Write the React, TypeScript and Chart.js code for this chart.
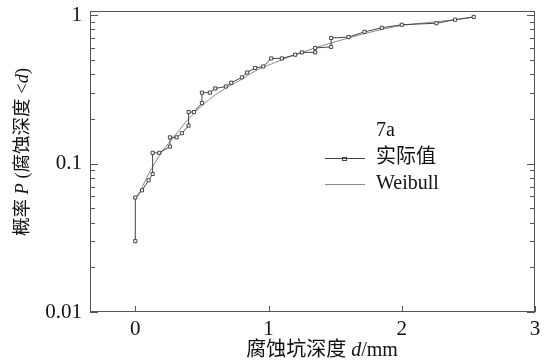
import React, { useEffect, useRef } from "react";
import { Chart, registerables } from "chart.js";

Chart.register(...registerables);

// Empirical (实际值) points: depth d (mm) and probability P
const empiricalD = [0, 0, 0.05, 0.1, 0.13, 0.13, 0.18, 0.26, 0.26, 0.31, 0.35, 0.4, 0.4, 0.44, 0.5, 0.5, 0.56, 0.6, 0.68, 0.72, 0.8, 0.84, 0.9, 0.96, 1.02, 1.1, 1.2, 1.25, 1.35, 1.35, 1.47, 1.47, 1.6, 1.72, 1.85, 2.0, 2.26, 2.4, 2.54];
const empiricalP = [0.03, 0.059, 0.066, 0.077, 0.085, 0.118, 0.118, 0.13, 0.15, 0.15, 0.16, 0.18, 0.222, 0.222, 0.255, 0.3, 0.3, 0.32, 0.33, 0.35, 0.38, 0.41, 0.44, 0.45, 0.51, 0.51, 0.54, 0.56, 0.56, 0.6, 0.61, 0.7, 0.71, 0.77, 0.82, 0.86, 0.88, 0.93, 0.97];

// Weibull fitted curve
const weibullD = [0.02, 0.1, 0.2, 0.3, 0.4, 0.5, 0.6, 0.7, 0.8, 0.9, 1.0, 1.2, 1.4, 1.6, 1.8, 2.0, 2.2, 2.4, 2.55];
const weibullP = [0.06, 0.085, 0.12, 0.155, 0.2, 0.245, 0.29, 0.33, 0.37, 0.42, 0.46, 0.54, 0.62, 0.7, 0.78, 0.85, 0.89, 0.93, 0.97];

const xTickValues = [0, 1, 2, 3];
const yTickValues = [0.01, 0.1, 1];

const legendTitle = "7a";
const seriesNames = ["实际值", "Weibull"];
const xTitleParts = [{ t: "腐蚀坑深度 ", i: false }, { t: "d", i: true }, { t: "/mm", i: false }];
const yTitleParts = [{ t: "概率 ", i: false }, { t: "P", i: true }, { t: " (腐蚀深度 <", i: false }, { t: "d", i: true }, { t: ")", i: false }];

const FAM = '"Liberation Serif", "Noto Sans CJK SC", serif';

function drawParts(ctx: CanvasRenderingContext2D, parts: { t: string; i: boolean }[], cx: number, cy: number, size: number) {
  const fonts = parts.map((p) => `${p.i ? "italic " : ""}${size}px ${FAM}`);
  let total = 0;
  const widths = parts.map((p, k) => {
    ctx.font = fonts[k];
    const w = ctx.measureText(p.t).width;
    total += w;
    return w;
  });
  let x = cx - total / 2;
  ctx.textAlign = "left";
  ctx.textBaseline = "middle";
  parts.forEach((p, k) => {
    ctx.font = fonts[k];
    ctx.fillText(p.t, x, cy);
    x += widths[k];
  });
}

const decorPlugin = {
  id: "decor",
  afterDraw(chart: any) {
    const ctx: CanvasRenderingContext2D = chart.ctx;
    const { left, right, top, bottom } = chart.chartArea;
    const xs = chart.scales.x;
    const ys = chart.scales.y;
    ctx.save();
    ctx.strokeStyle = "#555";
    ctx.lineWidth = 1;
    ctx.strokeRect(Math.round(left) + 0.5, Math.round(top) + 0.5, Math.round(right - left) - 1, Math.round(bottom - top) - 1);
    ctx.beginPath();
    for (let dec = 0.01; dec < 2; dec *= 10) {
      for (let m = 1; m <= 9; m++) {
        const v = m * dec;
        if (v > ys.max + 1e-9) continue;
        const y = Math.round(ys.getPixelForValue(v)) + 0.5;
        const len = m === 1 ? 8 : 5;
        ctx.moveTo(left, y);
        ctx.lineTo(left + len, y);
        ctx.moveTo(right, y);
        ctx.lineTo(right - len, y);
      }
    }
    xTickValues.forEach((v) => {
      const x = Math.round(xs.getPixelForValue(v)) + 0.5;
      ctx.moveTo(x, bottom);
      ctx.lineTo(x, bottom - 6);
    });
    ctx.stroke();

    ctx.fillStyle = "#111";
    drawParts(ctx, xTitleParts, 322, 351, 20);
    ctx.save();
    ctx.translate(23, 152);
    ctx.rotate(-Math.PI / 2);
    drawParts(ctx, yTitleParts, 0, 0, 18.5);
    ctx.restore();

    ctx.font = `20px ${FAM}`;
    ctx.textAlign = "left";
    ctx.textBaseline = "middle";
    ctx.fillText(legendTitle, 376, 131);
    ctx.fillText(seriesNames[0], 376, 158);
    ctx.fillText(seriesNames[1], 376, 184);
    ctx.strokeStyle = "#444";
    ctx.beginPath();
    ctx.moveTo(325, 158.5);
    ctx.lineTo(365, 158.5);
    ctx.stroke();
    ctx.strokeRect(342.5, 157.5, 4, 3);
    ctx.strokeStyle = "#888";
    ctx.beginPath();
    ctx.moveTo(325, 184.5);
    ctx.lineTo(365, 184.5);
    ctx.stroke();
    ctx.restore();
  },
};

export default function App() {
  const ref = useRef<HTMLCanvasElement>(null);
  useEffect(() => {
    document.body.style.margin = "0";
    const chart = new Chart(ref.current!, {
      type: "scatter",
      data: {
        datasets: [
          {
            label: seriesNames[0],
            data: empiricalD.map((d, i) => ({ x: d, y: empiricalP[i] })),
            showLine: true,
            borderColor: "#444",
            borderWidth: 1,
            pointStyle: "rect",
            pointRadius: 2.2,
            pointBorderWidth: 1,
            pointBorderColor: "#444",
            pointBackgroundColor: "#fff",
          },
          {
            label: seriesNames[1],
            data: weibullD.map((d, i) => ({ x: d, y: weibullP[i] })),
            showLine: true,
            borderColor: "#888",
            borderWidth: 1,
            pointRadius: 0,
            tension: 0.3,
          },
        ],
      },
      options: {
        responsive: false,
        animation: false,
        layout: { padding: { top: 11, right: 15, left: 0, bottom: 0 } },
        plugins: { legend: { display: false }, tooltip: { enabled: false } },
        scales: {
          x: {
            type: "linear",
            min: -0.34,
            max: 3,
            border: { display: false },
            grid: { display: false, drawTicks: false },
            afterBuildTicks: (s: any) => {
              s.ticks = xTickValues.map((v) => ({ value: v }));
            },
            afterFit: (s: any) => {
              s.height = 51;
              s.paddingLeft = 0;
              s.paddingRight = 0;
            },
            ticks: {
              padding: 5,
              color: "#111",
              font: { family: FAM, size: 21 },
              callback: (v: any) => String(v),
            },
          },
          y: {
            type: "logarithmic",
            min: 0.01,
            max: 1.064,
            border: { display: false },
            grid: { display: false, drawTicks: false },
            afterBuildTicks: (s: any) => {
              s.ticks = yTickValues.map((v) => ({ value: v }));
            },
            afterFit: (s: any) => {
              s.width = 90;
              s.paddingTop = 0;
              s.paddingBottom = 0;
            },
            ticks: {
              padding: 8,
              color: "#111",
              autoSkip: false,
              font: { family: FAM, size: 21 },
              callback: (v: any) => String(v),
            },
          },
        },
      },
      plugins: [decorPlugin],
    });
    return () => chart.destroy();
  }, []);
  return (
    <div style={{ width: 550, height: 363, background: "#fff" }}>
      <canvas ref={ref} width={550} height={363} />
    </div>
  );
}
